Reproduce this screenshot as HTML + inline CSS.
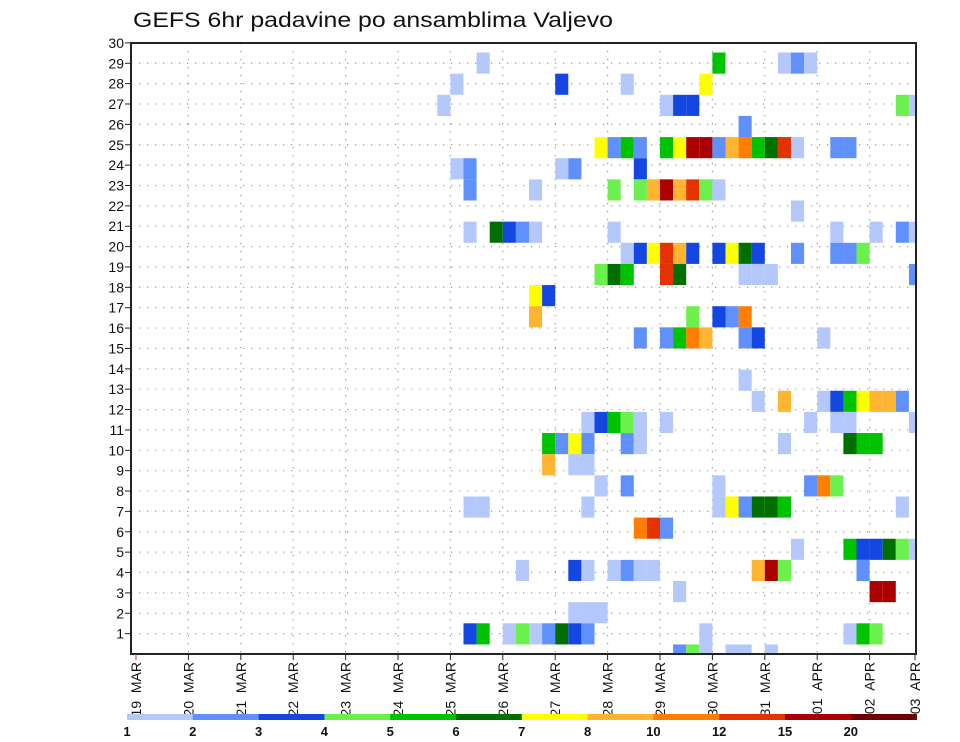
<!DOCTYPE html>
<html><head><meta charset="utf-8"><style>
html,body{margin:0;padding:0;background:#fff;}
svg{display:block;font-family:"Liberation Sans",sans-serif;}
</style></head><body>
<svg id="chart" width="960" height="742" viewBox="0 0 960 742" xmlns="http://www.w3.org/2000/svg">
<text x="133" y="27" font-size="21" textLength="480" lengthAdjust="spacingAndGlyphs" fill="#111">GEFS 6hr padavine po ansamblima Valjevo</text>
<defs><clipPath id="plotclip"><rect x="131" y="43" width="785" height="611"/></clipPath></defs>
<g id="grid"></g>
<g id="cells" clip-path="url(#plotclip)"></g>
<rect x="131" y="43" width="785" height="611" fill="none" stroke="#222" stroke-width="2"/>
<g id="yaxis"></g>
<g id="xaxis"></g>
<g id="colorbar"></g>
</svg>
<script>
// data
const dayLabels = ["19 MAR","20 MAR","21 MAR","22 MAR","23 MAR","24 MAR","25 MAR","26 MAR","27 MAR","28 MAR","29 MAR","30 MAR","31 MAR","01 APR","02 APR","03 APR"];
const yTicks = [1,2,3,4,5,6,7,8,9,10,11,12,13,14,15,16,17,18,19,20,21,22,23,24,25,26,27,28,29,30];
const binEdges = [1,2,3,4,5,6,7,8,10,12,15,20];
const binColors = ["#b4c8fc","#6090fc","#1446e2","#6cf04e","#00c300","#006f00","#ffff00","#ffb432","#ff7d00","#e43200","#aa0000","#6e0000"];
// cells: 6-hour step index, member row, precipitation (mm)
const cellStep = [
26,44,49,50,51,
24,32,37,43,
23,40,41,42,58,59,
46,
35,36,37,38,40,41,42,43,44,45,46,47,48,49,50,53,54,
24,25,32,33,38,
25,30,36,38,39,40,41,42,43,44,
50,
25,27,28,29,30,36,53,56,58,59,
37,38,39,40,41,42,44,45,46,47,50,53,54,55,
35,36,37,40,41,46,47,48,59,
30,31,
30,42,44,45,46,
38,40,41,42,43,46,47,52,
46,
47,49,52,53,54,55,56,57,58,
34,35,36,37,38,40,51,53,54,59,
31,32,33,34,37,38,49,54,55,56,
31,33,34,
35,37,44,51,52,53,
25,26,34,44,45,46,47,48,49,58,
38,39,40,
50,54,55,56,57,58,59,
29,33,34,36,37,38,39,47,48,49,55,
41,56,57,
33,34,35,
25,26,28,29,30,31,32,33,34,43,54,55,56,
41,42,43,45,46,48];
const cellMember = [
28,28,28,28,28,
27,27,27,27,
26,26,26,26,26,26,
25,
24,24,24,24,24,24,24,24,24,24,24,24,24,24,24,24,24,
23,23,23,23,23,
22,22,22,22,22,22,22,22,22,22,
21,
20,20,20,20,20,20,20,20,20,20,
19,19,19,19,19,19,19,19,19,19,19,19,19,19,
18,18,18,18,18,18,18,18,18,
17,17,
16,16,16,16,16,
15,15,15,15,15,15,15,15,
13,
12,12,12,12,12,12,12,12,12,
11,11,11,11,11,11,11,11,11,11,
10,10,10,10,10,10,10,10,10,10,
9,9,9,
8,8,8,8,8,8,
7,7,7,7,7,7,7,7,7,7,
6,6,6,
5,5,5,5,5,5,5,
4,4,4,4,4,4,4,4,4,4,4,
3,3,3,
2,2,2,
1,1,1,1,1,1,1,1,1,1,1,1,1,
0,0,0,0,0,0];
const cellPrecip = [
1.5,5.5,1.5,2.5,1.5,
1.5,3.5,1.5,7.5,
1.5,1.5,3.5,3.5,4.5,1.5,
2.5,
7.5,2.5,5.5,2.5,5.5,7.5,17,17,2.5,9,11,5.5,6.5,13,1.5,2.5,2.5,
1.5,2.5,1.5,2.5,3.5,
2.5,1.5,4.5,4.5,9,17,9,13,4.5,1.5,
1.5,
1.5,6.5,3.5,2.5,1.5,1.5,1.5,1.5,2.5,1.5,
1.5,3.5,7.5,13,9,3.5,3.5,7.5,6.5,3.5,2.5,2.5,2.5,4.5,
4.5,6.5,5.5,13,6.5,1.5,1.5,1.5,2.5,
7.5,3.5,
9,4.5,3.5,2.5,11,
2.5,2.5,5.5,11,9,2.5,3.5,1.5,
1.5,
1.5,9,1.5,3.5,5.5,7.5,9,9,2.5,
1.5,3.5,5.5,4.5,1.5,1.5,1.5,1.5,1.5,1.5,
5.5,2.5,7.5,2.5,2.5,1.5,1.5,6.5,5.5,5.5,
9,1.5,1.5,
1.5,2.5,1.5,2.5,11,4.5,
1.5,1.5,1.5,1.5,7.5,2.5,6.5,6.5,5.5,1.5,
11,13,2.5,
1.5,5.5,3.5,3.5,6.5,4.5,1.5,
1.5,3.5,1.5,1.5,2.5,1.5,1.5,9,17,4.5,2.5,
1.5,17,17,
1.5,1.5,1.5,
3.5,5.5,1.5,4.5,1.5,2.5,6.5,3.5,2.5,1.5,1.5,5.5,4.5,
2.5,4.5,1.5,1.5,1.5,1.5];

const NS="http://www.w3.org/2000/svg";
function mk(tag, attrs, parent){const e=document.createElementNS(NS,tag);for(const k in attrs)e.setAttribute(k,attrs[k]);parent.appendChild(e);return e;}
// axis functions
const X0=136, DAYW=52.4, STEPW=DAYW/4;
function xDay(d){return d===15?915:X0+d*DAYW;}
function xStep(s){return X0+s*STEPW;}
function yVal(v){return 654-v*20.37;}
function yCellTop(m){return 623.3-(m-1)*21.14;}
const CELLH=21.14;
function colorFor(v){let i=0;for(let k=0;k<binEdges.length;k++){if(v>=binEdges[k])i=k;}return binColors[i];}

const grid=document.getElementById('grid');
for(let i=0;i<yTicks.length-1;i++){
  const y=yVal(yTicks[i]);
  const l=mk('line',{x1:131,x2:916,y1:y,y2:y,stroke:'#999','stroke-width':1.2,'stroke-dasharray':'1.2 6.8'},grid);
  
  
}
for(let d=1;d<dayLabels.length-1;d++){
  const x=xDay(d);
  const l=mk('line',{x1:x,x2:x,y1:43,y2:654,stroke:'#999','stroke-width':1.2,'stroke-dasharray':'1.2 6.8'},grid);
  
  
}
const cells=document.getElementById('cells');
for(let i=0;i<cellStep.length;i++){
  const r=mk('rect',{x:xStep(cellStep[i]),y:yCellTop(cellMember[i]),width:STEPW,height:CELLH,fill:colorFor(cellPrecip[i])},cells);
  
  
}
const ya=document.getElementById('yaxis');
for(const v of yTicks){
  const y=yVal(v);
  const t=mk('line',{x1:125,x2:131,y1:y,y2:y,stroke:'#222','stroke-width':1},ya);
  
  
  const tx=mk('text',{x:124,y:y+5,'text-anchor':'end','font-size':14,fill:'#111'},ya);
  tx.textContent=v;
  
  
}
const xa=document.getElementById('xaxis');
for(let d=0;d<dayLabels.length;d++){
  const x=xDay(d);
  const t=mk('line',{x1:x,x2:x,y1:654,y2:660,stroke:d===0?'#c33':'#222','stroke-width':1},xa);
  
  
  const tx=mk('text',{x:0,y:0,'text-anchor':'end','font-size':14,fill:'#111',transform:`translate(${x+5},662) rotate(-90)`},xa);
  tx.textContent=dayLabels[d].replace(' ','\u00a0\u00a0');
  
  
}
const cb=document.getElementById('colorbar');
const CB0=127, CBW=65.8;
for(let i=0;i<binColors.length;i++){
  const r=mk('rect',{x:CB0+i*CBW,y:714,width:CBW+0.3,height:6,fill:binColors[i]},cb);
  
  
  const t=mk('text',{x:CB0+i*CBW,y:736,'text-anchor':'middle','font-size':13,'font-weight':'bold',fill:'#111'},cb);
  t.textContent=binEdges[i];
  
  
}
</script>
</body></html>
